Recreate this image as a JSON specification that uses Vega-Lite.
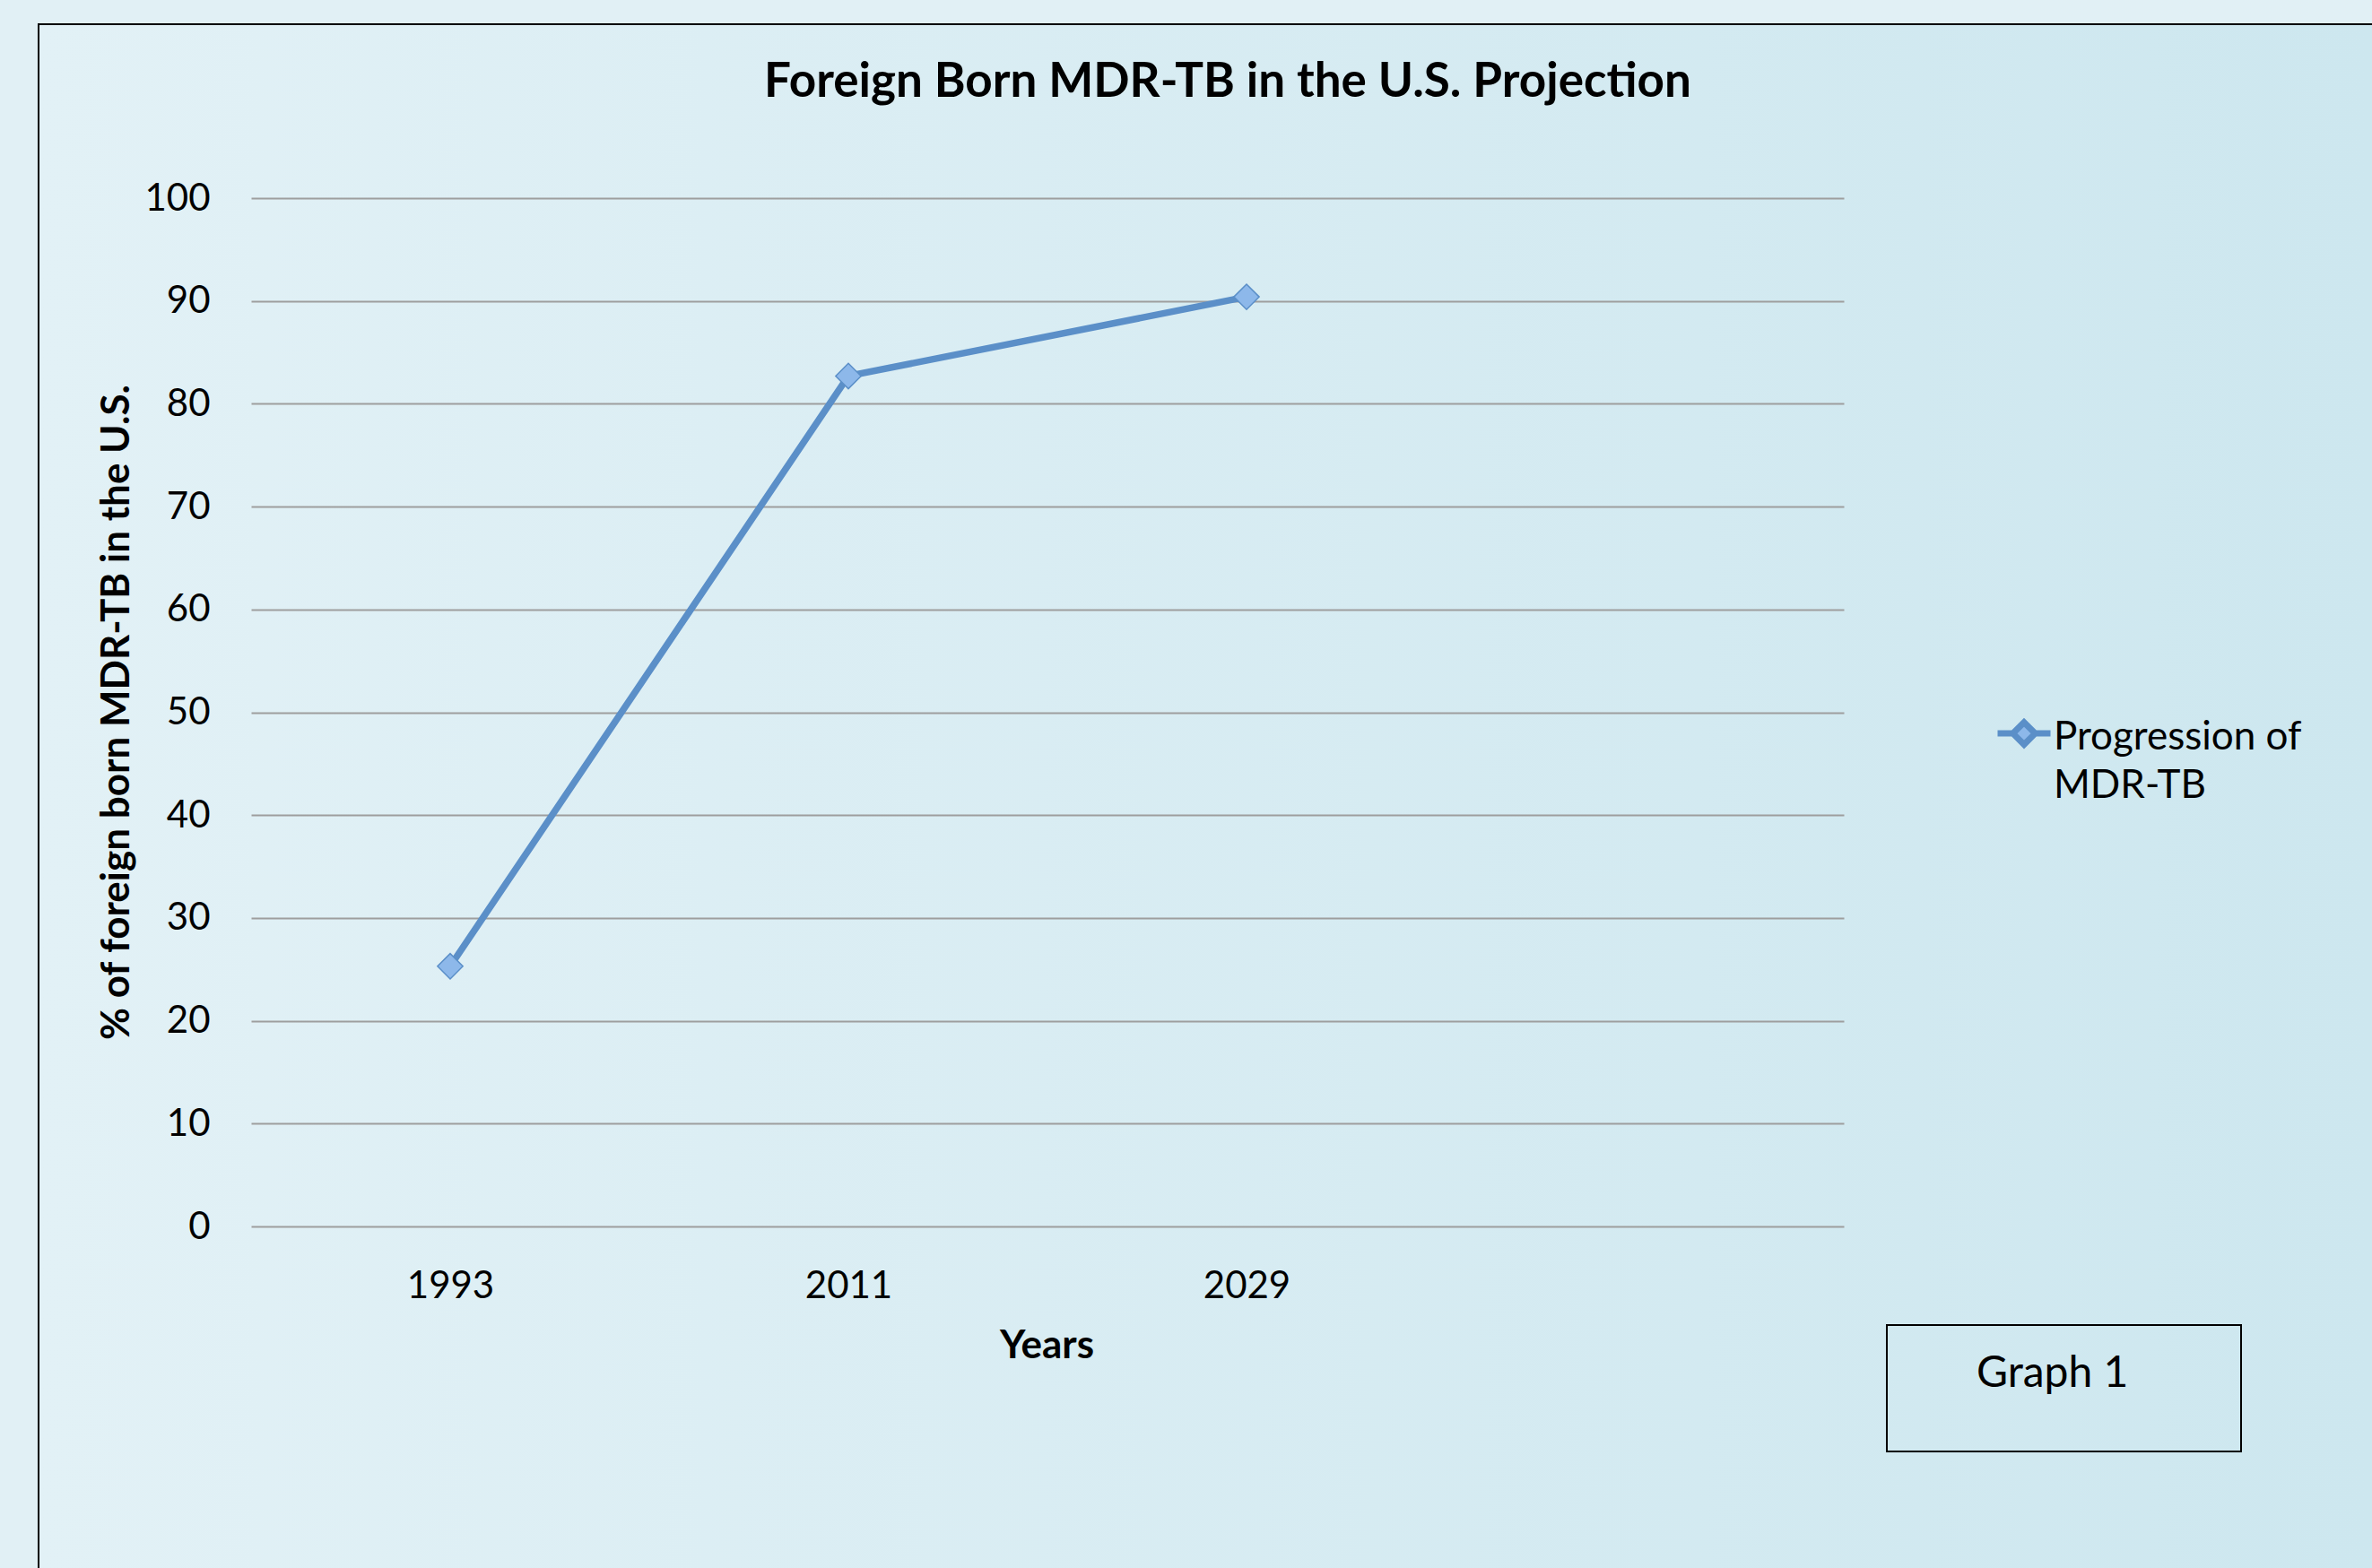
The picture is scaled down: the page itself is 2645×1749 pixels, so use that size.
{
  "$schema": "https://vega.github.io/schema/vega-lite/v6.json",
  "width": 2602,
  "height": 1722,
  "autosize": {"type": "none"},
  "padding": {"left": 43, "top": 27, "right": 0, "bottom": 0},
  "background": "#E1F0F5",
  "view": {
    "stroke": null,
    "fill": {"gradient": "linear", "x1": 0, "y1": 0, "x2": 1, "y2": 0, "stops": [{"offset": 0, "color": "#E2F1F6"}, {"offset": 1, "color": "#CDE7EF"}]}
  },
  "title": {
    "text": "Foreign Born MDR-TB in the U.S. Projection",
    "font": "Lato",
    "fontSize": 53,
    "fontWeight": "bold",
    "color": "black",
    "anchor": "middle",
    "frame": "group",
    "dx": 25,
    "dy": 93,
    "offset": 0
  },
  "data": {
    "values": [
      {"year": 1993, "value": 25.3, "series": "Progression of MDR-TB", "note": "Graph 1"},
      {"year": 2011, "value": 82.7, "series": "Progression of MDR-TB", "note": "Graph 1"},
      {"year": 2029, "value": 90.4, "series": "Progression of MDR-TB", "note": "Graph 1"}
    ]
  },
  "encoding": {
    "x": {
      "field": "year",
      "type": "quantitative",
      "scale": {"domain": [1984, 2056], "range": [237, 2013], "nice": false, "zero": false},
      "axis": {
        "values": [1993, 2011, 2029],
        "format": "d",
        "title": "Years",
        "offset": -381,
        "grid": false,
        "domain": false,
        "ticks": false,
        "labelFont": "Lato",
        "labelFontSize": 42,
        "labelColor": "black",
        "labelPadding": 46,
        "titleFont": "Lato",
        "titleFontSize": 44,
        "titleFontWeight": "bold",
        "titleColor": "black",
        "titleX": 1124,
        "titleY": 146,
        "titleAlign": "center",
        "titleBaseline": "alphabetic"
      }
    },
    "y": {
      "field": "value",
      "type": "quantitative",
      "scale": {"domain": [0, 100], "range": [1341, 194], "nice": false},
      "axis": {
        "values": [0, 10, 20, 30, 40, 50, 60, 70, 80, 90, 100],
        "title": "% of foreign born MDR-TB in the U.S.",
        "offset": -237,
        "grid": true,
        "gridColor": "#9E9E9E",
        "gridWidth": 2,
        "domain": false,
        "ticks": false,
        "labelFont": "Lato",
        "labelFontSize": 42,
        "labelColor": "black",
        "labelPadding": 46,
        "titleFont": "Lato",
        "titleFontSize": 44,
        "titleFontWeight": "bold",
        "titleColor": "black",
        "titleX": -150,
        "titleY": 767,
        "titleAngle": -90,
        "titleAlign": "center",
        "titleBaseline": "middle"
      }
    }
  },
  "layer": [
    {
      "mark": {"type": "line", "strokeWidth": 7.5},
      "encoding": {
        "color": {
          "field": "series",
          "type": "nominal",
          "scale": {"range": ["#5B8FC8"]},
          "legend": {
            "orient": "none",
            "legendX": 2181,
            "legendY": 741,
            "title": null,
            "padding": 0,
            "symbolType": "M-1,0.58H-0.42M0.42,0.58H1M0,0.16L0.42,0.58L0,1L-0.42,0.58Z",
            "symbolSize": 3481,
            "symbolStrokeWidth": 7,
            "symbolFillColor": "#8DB8EA",
            "labelFont": "Lato",
            "labelFontSize": 44,
            "labelOffset": 0,
            "labelLimit": 600,
            "labelBaseline": "top",
            "labelExpr": "[slice(datum.label, 0, 14), slice(datum.label, 15)]"
          }
        }
      }
    },
    {
      "mark": {
        "type": "point",
        "shape": "diamond",
        "filled": true,
        "fill": "#8DB8EA",
        "stroke": "#5B8FC8",
        "strokeWidth": 1.5,
        "size": 800,
        "opacity": 1
      }
    },
    {
      "mark": {"type": "point", "opacity": 0},
      "encoding": {
        "shape": {
          "field": "year",
          "type": "nominal",
          "legend": {
            "orient": "none",
            "legendX": 0,
            "legendY": 0,
            "title": null,
            "padding": 1400,
            "strokeColor": "black",
            "fillColor": null,
            "symbolOpacity": 0,
            "symbolSize": 0,
            "labelExpr": "''"
          }
        },
        "size": {
          "field": "note",
          "type": "nominal",
          "scale": {"range": [1, 1]},
          "legend": {
            "orient": "none",
            "legendX": 2061,
            "legendY": 1451,
            "title": null,
            "padding": 58,
            "strokeColor": "black",
            "symbolOpacity": 0,
            "symbolOffset": 254,
            "labelFont": "Lato",
            "labelFontSize": 48,
            "labelColor": "black",
            "labelOffset": -260,
            "labelLimit": 900,
            "labelBaseline": "line-bottom"
          }
        }
      }
    }
  ],
  "config": {
    "legend": {"labelColor": "black", "strokeWidth": 2},
    "style": {"guide-label": {"lineHeight": 54}}
  }
}
